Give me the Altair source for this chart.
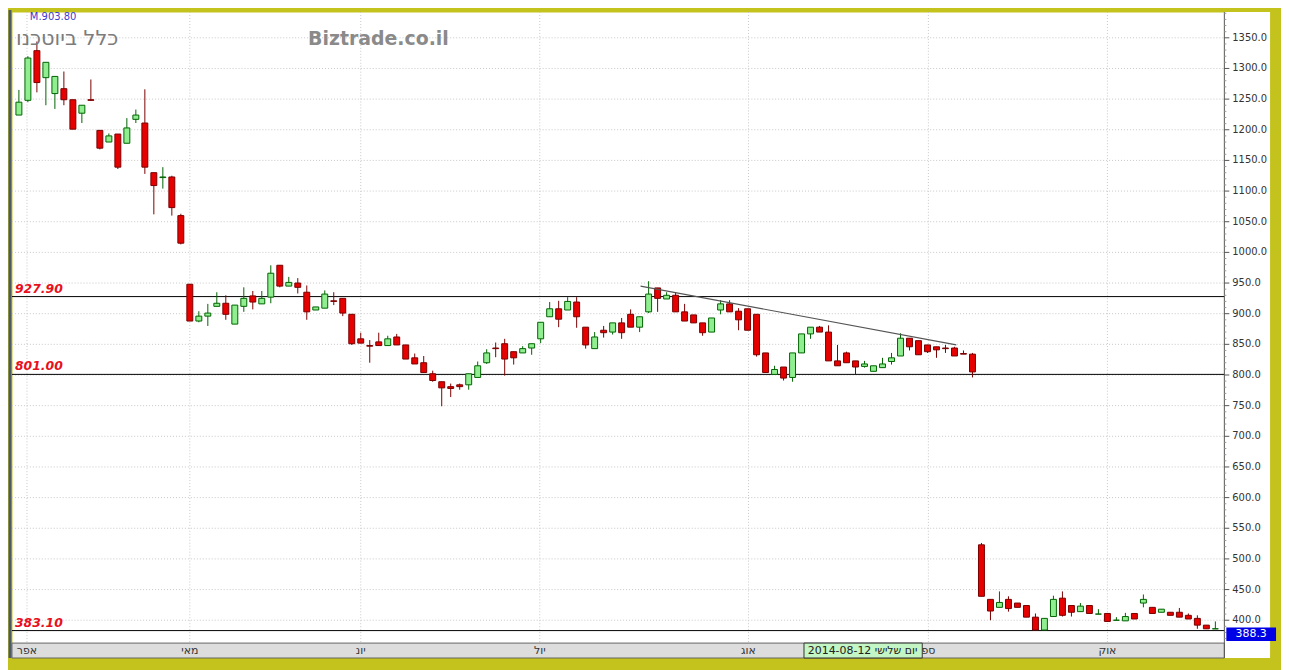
import altair as alt
import pandas as pd

# ---------------- data ----------------
opens = [1224, 1248, 1329, 1285, 1259, 1267, 1249, 1227, 1249, 1199,
         1180, 1193, 1178, 1217, 1211, 1130, 1122, 1123, 1060, 948,
         888, 896, 912, 917, 883, 912, 929, 916, 927, 979,
         945, 950, 935, 906, 909, 921, 925, 899, 859, 848,
         854, 848, 862, 849, 828, 820, 802, 789, 781, 784,
         784, 796, 820, 844, 851, 838, 836, 844, 859, 895,
         908, 906, 919, 878, 843, 873, 870, 885, 899, 878,
         903, 942, 924, 930, 903, 898, 885, 870, 906, 916,
         904, 908, 899, 836, 801, 813, 796, 836, 867, 878,
         870, 823, 836, 823, 814, 806, 812, 822, 831, 860,
         856, 849, 846, 844, 844, 835, 834, 523, 434, 421,
         434, 428, 424, 405, 384, 406, 436, 424, 414, 424,
         410, 411, 400, 399, 411, 428, 421, 413, 413, 413,
         408, 403, 392, 386]
highs = [1265, 1320, 1344, 1310, 1287, 1295, 1249, 1240, 1282, 1199,
         1194, 1193, 1219, 1233, 1266, 1130, 1139, 1125, 1063, 948,
         904, 916, 935, 930, 914, 943, 937, 937, 979, 979,
         960, 958, 946, 911, 938, 935, 925, 899, 869, 857,
         869, 864, 867, 849, 835, 831, 807, 789, 786, 786,
         802, 822, 842, 853, 859, 838, 847, 851, 886, 919,
         921, 927, 927, 878, 870, 880, 885, 893, 907, 895,
         953, 942, 935, 935, 916, 898, 885, 893, 922, 922,
         909, 908, 899, 836, 815, 813, 836, 867, 878, 880,
         881, 849, 838, 823, 823, 815, 828, 836, 868, 860,
         856, 849, 846, 849, 846, 840, 836, 526, 434, 447,
         439, 428, 424, 411, 403, 440, 447, 424, 428, 424,
         418, 411, 405, 412, 411, 442, 421, 418, 413, 420,
         411, 408, 392, 398]
lows = [1224, 1245, 1261, 1240, 1234, 1240, 1201, 1211, 1247, 1168,
        1180, 1136, 1178, 1211, 1128, 1062, 1104, 1060, 1013, 888,
        886, 880, 912, 890, 883, 903, 907, 916, 917, 943,
        945, 933, 890, 906, 909, 914, 896, 849, 852, 820,
        848, 848, 849, 826, 818, 804, 789, 749, 764, 776,
        776, 796, 818, 829, 799, 817, 836, 833, 852, 895,
        878, 906, 877, 843, 843, 861, 866, 859, 878, 870,
        901, 903, 924, 903, 888, 885, 864, 870, 899, 903,
        873, 873, 830, 804, 801, 791, 789, 836, 859, 870,
        823, 815, 820, 801, 812, 806, 812, 817, 831, 840,
        833, 836, 828, 836, 831, 834, 796, 439, 400, 421,
        414, 421, 405, 384, 384, 406, 406, 406, 414, 411,
        410, 398, 400, 399, 402, 421, 411, 413, 408, 405,
        402, 386, 386, 386]
closes = [1245, 1317, 1277, 1310, 1287, 1249, 1201, 1240, 1248, 1170,
          1190, 1139, 1203, 1224, 1139, 1109, 1123, 1073, 1015, 888,
          896, 901, 917, 899, 914, 925, 919, 925, 966, 945,
          951, 943, 903, 911, 932, 920, 901, 851, 852, 847,
          848, 859, 849, 826, 818, 804, 791, 779, 778, 781,
          802, 815, 836, 843, 826, 828, 843, 851, 886, 908,
          891, 920, 895, 849, 862, 869, 885, 869, 878, 895,
          932, 925, 930, 903, 888, 885, 869, 893, 916, 903,
          890, 873, 833, 804, 809, 795, 836, 867, 878, 870,
          823, 815, 820, 813, 818, 815, 818, 828, 860, 846,
          833, 838, 841, 843, 831, 834, 805, 439, 415, 429,
          419, 421, 405, 384, 403, 434, 408, 413, 423, 411,
          410, 398, 400, 406, 402, 434, 411, 418, 408, 405,
          402, 392, 386, 386]

y_ticks = list(range(400, 1351, 50))
y_tick_labels = [f"{v:.1f}" for v in y_ticks]
minor_ticks = [v for v in range(370, 1391, 10) if v % 50 != 0]
month_pos = [0.9, 19, 38, 57.9, 81.1, 101.1, 121]
month_names = ["אפר", "מאי", "יונ", "יול", "אוג", "ספ", "אוק"]
levels = [927.9, 801.0, 383.1]
level_labels = ["927.90", "801.00", "383.10"]
trend_x = [69.1, 104.2]
trend_y = [945, 849]
last_price = [388.3]
last_price_bottom = [366.0]
last_price_label = ["388.3"]
TITLE = "כלל ביוטכנו"
SITE = "Biztrade.co.il"
QUOTE = "M.903.80"
TOOLTIP = "2014-08-12 יום שלישי"

# ---------------- frames ----------------
n = len(opens)
df = pd.DataFrame({"i": list(range(n)), "o": opens, "h": highs, "l": lows, "c": closes})
df["dir"] = ["up" if c >= o else "down" for o, c in zip(opens, closes)]
df["x1"] = df["i"] - 0.33
df["x2"] = df["i"] + 0.33

W, H = 1220, 635
xs = alt.Scale(domain=[-0.77, 134.0], nice=False, zero=False)
ys = alt.Scale(domain=[362.7, 1392], nice=False, zero=False)

FILL_UP, FILL_DN = "#90ee90", "#e60000"
LINE_UP, LINE_DN = "#006400", "#7a0000"
one = pd.DataFrame({"k": [0]})

# white right-axis column and bottom date strip
axis_col = alt.Chart(one).mark_rect(fill="white").encode(
    x=alt.value(W), x2=alt.value(W + 46), y=alt.value(0), y2=alt.value(H + 15))
strip = alt.Chart(one).mark_rect(
    fill="#dddddd", stroke="#666666", strokeWidth=1).encode(
    x=alt.value(0), x2=alt.value(W), y=alt.value(H), y2=alt.value(H + 15))
left_edge = alt.Chart(one).mark_rule(
    color="#4d5b68", strokeWidth=3).encode(
    x=alt.value(-2), y=alt.value(-2), y2=alt.value(H + 15))
axis_line = alt.Chart(one).mark_rule(
    color="#555555", strokeWidth=1).encode(
    x=alt.value(W), y=alt.value(0), y2=alt.value(H + 15))

# grid
hgrid = alt.Chart(pd.DataFrame({"v": y_ticks})).mark_rule(
    color="#c8c8c8", strokeDash=[1, 2], strokeWidth=1).encode(
    y=alt.Y("v:Q", scale=ys, axis=None), x=alt.value(0), x2=alt.value(W))
vgrid = alt.Chart(pd.DataFrame({"m": month_pos})).mark_rule(
    color="#c8c8c8", strokeDash=[1, 2], strokeWidth=1).encode(
    x=alt.X("m:Q", scale=xs, axis=None), y=alt.value(0), y2=alt.value(H + 15))

# price axis: major ticks, labels, minor ticks
tick_df = pd.DataFrame({"v": y_ticks, "t": y_tick_labels})
major = alt.Chart(tick_df).mark_rule(color="#555555", strokeWidth=1).encode(
    y=alt.Y("v:Q", scale=ys, axis=None), x=alt.value(W), x2=alt.value(W + 5))
ylabels = alt.Chart(tick_df).mark_text(
    align="left", baseline="middle", font="DejaVu Sans", fontSize=10,
    color="#333333").encode(
    y=alt.Y("v:Q", scale=ys, axis=None), x=alt.value(W + 8), text="t:N")
minor = alt.Chart(pd.DataFrame({"v": minor_ticks})).mark_rule(
    color="#999999", strokeWidth=1).encode(
    y=alt.Y("v:Q", scale=ys, axis=None), x=alt.value(W), x2=alt.value(W + 2))

# level lines and labels
lev_df = pd.DataFrame({"v": levels, "t": level_labels})
lev_lines = alt.Chart(lev_df).mark_rule(color="black", strokeWidth=1).encode(
    y=alt.Y("v:Q", scale=ys, axis=None), x=alt.value(0), x2=alt.value(W))
lev_text = alt.Chart(lev_df).mark_text(
    align="left", baseline="alphabetic", dy=-4, font="DejaVu Sans",
    fontSize=12.5, fontStyle="italic", fontWeight="bold", color="#e8101c").encode(
    y=alt.Y("v:Q", scale=ys, axis=None), x=alt.value(3), text="t:N")

# candles
wicks = alt.Chart(df).mark_rule(strokeWidth=1).encode(
    x=alt.X("i:Q", scale=xs, axis=None),
    y=alt.Y("l:Q", scale=ys, axis=None),
    y2="h:Q",
    color=alt.Color("dir:N", scale=alt.Scale(domain=["up", "down"], range=[LINE_UP, LINE_DN]), legend=None),
)
bodies = alt.Chart(df).mark_rect(strokeWidth=1).encode(
    x=alt.X("x1:Q", scale=xs, axis=None), x2="x2:Q",
    y=alt.Y("o:Q", scale=ys, axis=None), y2="c:Q",
    fill=alt.Fill("dir:N", scale=alt.Scale(domain=["up", "down"], range=[FILL_UP, FILL_DN]), legend=None),
    stroke=alt.Stroke("dir:N", scale=alt.Scale(domain=["up", "down"], range=[LINE_UP, LINE_DN]), legend=None),
)

trend = alt.Chart(pd.DataFrame({"x": trend_x, "y": trend_y})).mark_line(
    color="#555555", strokeWidth=1.2).encode(
    x=alt.X("x:Q", scale=xs, axis=None), y=alt.Y("y:Q", scale=ys, axis=None))

# texts
title = alt.Chart(pd.DataFrame({"t": [TITLE]})).mark_text(
    align="left", baseline="middle", font="DejaVu Sans", fontSize=21,
    color="#7c7c7c").encode(x=alt.value(4), y=alt.value(27), text="t:N")
site = alt.Chart(pd.DataFrame({"t": [SITE]})).mark_text(
    align="left", baseline="middle", font="DejaVu Sans", fontSize=19,
    fontWeight="bold", color="#8a8a8a").encode(x=alt.value(298), y=alt.value(27), text="t:N")
quote = alt.Chart(pd.DataFrame({"t": [QUOTE]})).mark_text(
    align="left", baseline="alphabetic", font="DejaVu Sans", fontSize=10,
    color="#3a3ad0").encode(x=alt.value(18), y=alt.value(8), text="t:N")

months = alt.Chart(pd.DataFrame({"m": month_pos, "t": month_names})).mark_text(
    align="center", baseline="middle", font="DejaVu Sans", fontSize=11,
    color="#333333").encode(
    x=alt.X("m:Q", scale=xs, axis=None), y=alt.value(H + 8), text="t:N")

tip_box = alt.Chart(one).mark_rect(
    fill="#c4f5c4", stroke="#333333", strokeWidth=1).encode(
    x=alt.value(797), x2=alt.value(916), y=alt.value(H), y2=alt.value(H + 15))
tip_text = alt.Chart(pd.DataFrame({"t": [TOOLTIP]})).mark_text(
    align="center", baseline="middle", font="DejaVu Sans", fontSize=11,
    color="#222222").encode(x=alt.value(856), y=alt.value(H + 8), text="t:N")

price_df = pd.DataFrame({"v": last_price, "v2": last_price_bottom, "t": last_price_label})
price_box = alt.Chart(price_df).mark_rect(fill="#0000e6").encode(
    y=alt.Y("v:Q", scale=ys, axis=None), y2="v2:Q",
    x=alt.value(W + 2), x2=alt.value(W + 52))
price_text = alt.Chart(price_df).mark_text(
    align="center", baseline="middle", font="DejaVu Sans", fontSize=11,
    color="white", dy=7).encode(
    y=alt.Y("v:Q", scale=ys, axis=None), x=alt.value(W + 27), text="t:N")

chart = alt.layer(
    axis_col, hgrid, vgrid, strip, tip_box, tip_text, months, left_edge,
    lev_lines, lev_text, axis_line, minor, major, ylabels, wicks, bodies, trend,
    title, site, quote, price_box, price_text,
).properties(
    width=W, height=H,
    autosize=alt.AutoSizeParams(type="none"),
    padding={"left": 4, "top": 2, "right": 57, "bottom": 25},
    background="#c4c21c",
).configure_view(fill="white", stroke="transparent")

chart.save("out.html", embed_options={"renderer": "svg", "actions": False})
